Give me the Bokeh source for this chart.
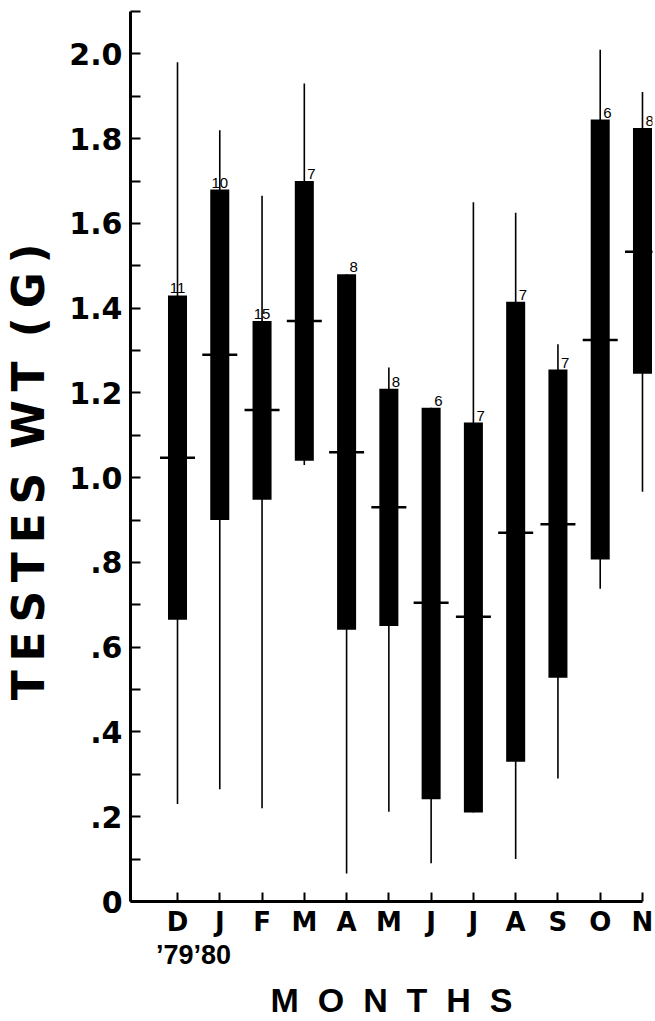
from bokeh.plotting import figure
from bokeh.models import FixedTicker, LinearAxis, Range1d, ColumnDataSource
from bokeh.core.properties import value
from bokeh.embed import file_html
from bokeh.resources import INLINE

# Monthly testes weight (g): range, central box, mean and sample size
months = ["D", "J", "F", "M", "A", "M", "J", "J", "A", "S", "O", "N"]
month_pos = list(range(len(months)))
whisker_hi = [1.98, 1.82, 1.665, 1.93, 1.48, 1.26, 1.165, 1.65, 1.625, 1.315, 2.01, 1.91]
box_hi = [1.43, 1.68, 1.37, 1.70, 1.48, 1.21, 1.165, 1.13, 1.415, 1.255, 1.845, 1.825]
mean_wt = [1.047, 1.29, 1.16, 1.37, 1.06, 0.93, 0.705, 0.672, 0.87, 0.89, 1.325, 1.533]
box_lo = [0.665, 0.90, 0.948, 1.04, 0.641, 0.65, 0.241, 0.21, 0.33, 0.528, 0.807, 1.245]
whisker_lo = [0.23, 0.265, 0.22, 1.03, 0.066, 0.212, 0.09, 0.21, 0.10, 0.29, 0.738, 0.967]
sample_n = [11, 10, 15, 7, 8, 8, 6, 7, 7, 7, 6, 8]

y_ticks = [0, 0.2, 0.4, 0.6, 0.8, 1.0, 1.2, 1.4, 1.6, 1.8, 2.0]
y_tick_labels = ["0", ".2", ".4", ".6", ".8", "1.0", "1.2", "1.4", "1.6", "1.8", "2.0"]
y_minor = [0.1, 0.3, 0.5, 0.7, 0.9, 1.1, 1.3, 1.5, 1.7, 1.9, 2.1]

# year marks under the first two months
year_pos = [0.38]
year_labels = ["\u201979\u201980"]

NB = "\u00a0"
THIN = "\u2009"

src = ColumnDataSource(dict(
    x=month_pos, whi=whisker_hi, bhi=box_hi, mean=mean_wt,
    blo=box_lo, wlo=whisker_lo,
))

p = figure(
    width=655, height=1021,
    x_range=Range1d(-1.112, 11.237), y_range=Range1d(0, 2.1),
    output_backend="svg", toolbar_location=None,
    min_border_left=130, min_border_right=3,
    min_border_top=11, min_border_bottom=120,
    background_fill_color="white", border_fill_color="white",
)
p.outline_line_color = None
p.grid.visible = False

# range whiskers, then the solid boxes, then the mean dashes
p.segment(x0="x", y0="wlo", x1="x", y1="whi", source=src,
          line_color="black", line_width=1.6)
p.vbar(x="x", width=0.45, bottom="blo", top="bhi", source=src,
       fill_color="black", line_color=None)
p.dash(x="x", y="mean", source=src, size=35, angle=0,
       line_color="black", line_width=2.5)

# sample sizes above each box
two_digit = [i for i, v in enumerate(sample_n) if v >= 10]
one_digit = [i for i, v in enumerate(sample_n) if v < 10]
for idx, align, xoff in ((two_digit, "center", 0), (one_digit, "left", 3)):
    p.text(x=[month_pos[i] for i in idx], y=[box_hi[i] for i in idx],
           text=[str(sample_n[i]) for i in idx],
           text_align=align, text_baseline="bottom", x_offset=xoff, y_offset=-2,
           text_font=value("Liberation Sans"), text_font_size="15px",
           text_color="black")

# y axis
ya = p.yaxis[0]
ya.ticker = FixedTicker(ticks=y_ticks, minor_ticks=y_minor)
ya.major_label_overrides = dict(zip(y_ticks, y_tick_labels))
ya.axis_line_width = 3
ya.major_tick_line_width = 2
ya.minor_tick_line_width = 2
ya.major_tick_in = 10
ya.major_tick_out = 0
ya.minor_tick_in = 10
ya.minor_tick_out = 0
ya.major_label_standoff = 8
ya.major_label_text_font = "DejaVu Sans"
ya.major_label_text_font_style = "bold"
ya.major_label_text_font_size = "30px"
ya.major_label_text_color = "black"
ya.axis_label = (THIN.join("TESTES") + NB + THIN + THIN.join("WT") + NB + THIN
                 + THIN.join("(G)") + NB * 2)
ya.axis_label_text_font = "DejaVu Sans"
ya.axis_label_text_font_style = "bold"
ya.axis_label_text_font_size = "44px"
ya.axis_label_text_color = "black"
ya.axis_label_standoff = 12

# month axis
xa = p.xaxis[0]
xa.bounds = (-1.112, 11)
xa.ticker = FixedTicker(ticks=month_pos, minor_ticks=[])
xa.major_label_overrides = dict(zip(month_pos, months))
xa.axis_line_width = 3
xa.major_tick_line_width = 2
xa.major_tick_in = 9
xa.major_tick_out = 0
xa.major_label_standoff = 5
xa.major_label_text_font = "DejaVu Sans"
xa.major_label_text_font_style = "bold"
xa.major_label_text_font_size = "26px"
xa.major_label_text_color = "black"

# second, line-less axis carrying the year marks and the title
xa2 = LinearAxis(
    ticker=FixedTicker(ticks=year_pos, minor_ticks=[]),
    major_label_overrides=dict(zip(year_pos, year_labels)),
    axis_line_color=None, major_tick_line_color=None, minor_tick_line_color=None,
    major_tick_in=0, major_tick_out=0,
    major_label_standoff=0,
    major_label_text_font="Liberation Sans", major_label_text_font_style="bold",
    major_label_text_font_size="27px", major_label_text_color="black",
    axis_label=(NB * 2).join("MONTHS"),
    axis_label_text_font="Liberation Sans", axis_label_text_font_style="bold",
    axis_label_text_font_size="34px", axis_label_text_color="black",
    axis_label_standoff=8,
)
p.add_layout(xa2, "below")

open("out.html", "w").write(file_html(p, INLINE))
